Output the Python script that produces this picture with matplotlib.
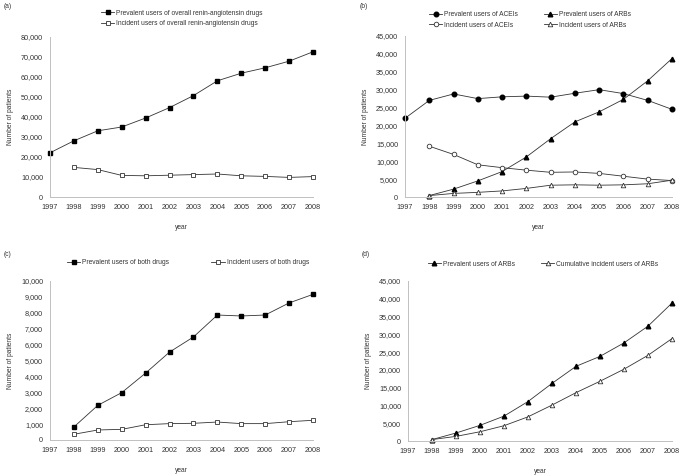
import matplotlib
matplotlib.use("Agg")
import matplotlib.pyplot as plt
from matplotlib.ticker import FuncFormatter, MultipleLocator

plt.rcParams['font.family'] = ['Liberation Sans', 'DejaVu Sans']

years = list(range(1997, 2009))
years_98 = list(range(1998, 2009))

# (a)
a_prev = [22100, 28100, 33100, 35000, 39500, 44700, 50700, 58100, 61900, 64600, 67900, 72600]
a_inc = [14800, 13700, 10800, 10600, 10900, 11200, 11500, 10600, 10300, 9800, 10200]
# (b)
b_prev_acei = [22000, 27000, 28800, 27500, 28000, 28200, 27900, 29000, 30000, 28900, 27000, 24500]
b_prev_arb = [400, 2200, 4500, 7100, 11200, 16300, 21000, 23800, 27300, 32500, 38700]
b_inc_acei = [14200, 11900, 9000, 8200, 7500, 6900, 7000, 6600, 5800, 5000, 4600]
b_inc_arb = [400, 1000, 1300, 1700, 2400, 3300, 3400, 3300, 3400, 3700, 4700]
# (c)
c_prev = [820, 2180, 2980, 4210, 5530, 6480, 7860, 7800, 7860, 8620, 9160]
c_inc = [360, 630, 670, 960, 1030, 1050, 1130, 1030, 1030, 1150, 1240]
# (d)
d_prev_arb = [400, 2250, 4400, 7000, 11100, 16200, 21000, 23800, 27600, 32300, 38800]
d_cum_inc_arb = [400, 1300, 2600, 4300, 6800, 10100, 13600, 16800, 20200, 24100, 28800]

FS = 5.2
LFS = 4.8
W, H = 685, 476
fig = plt.figure(figsize=(W / 100, H / 100), dpi=100)

def mkax(l, r, t, b):
    return fig.add_axes([l / W, 1 - b / H, (r - l) / W, (b - t) / H])

def style(ax, ymax, step):
    ax.set_xlim(1997, 2008)
    ax.set_ylim(0, ymax)
    ax.set_xticks(years)
    ax.yaxis.set_major_locator(MultipleLocator(step))
    ax.yaxis.set_major_formatter(FuncFormatter(lambda v, p: f"{int(v):,}"))
    for s in ['top', 'right']:
        ax.spines[s].set_visible(False)
    for s in ['left', 'bottom']:
        ax.spines[s].set_color('#c0c0c0')
        ax.spines[s].set_linewidth(0.7)
    ax.tick_params(length=0, labelsize=FS, pad=5, colors='#333333')
    ax.set_xlabel('year', fontsize=LFS, labelpad=9.5, color='#333333')
    ax.set_ylabel('Number of patients', fontsize=LFS, labelpad=5, color='#333333')

lw = 0.6
ms = 3.3
kw_fill = dict(color='#333333', lw=lw, markersize=ms, markerfacecolor='black', markeredgecolor='black', clip_on=False)
kw_open = dict(color='#333333', lw=lw, markersize=ms, markerfacecolor='white', markeredgecolor='#333333', markeredgewidth=0.6, clip_on=False)
lkw = dict(frameon=False, fontsize=LFS, handlelength=2.0, handletextpad=0.3, borderpad=0, labelcolor='#333333')

# Panel (a)
ax = mkax(50, 313, 37, 197)
ax.plot(years, a_prev, marker='s', label='Prevalent users of overall renin-angiotensin drugs', **kw_fill)
ax.plot(years_98, a_inc, marker='s', label='Incident users of overall renin-angiotensin drugs', **kw_open)
style(ax, 80000, 10000)
ax.legend(loc='center', bbox_to_anchor=(182 / W, 1 - 18.5 / H), bbox_transform=fig.transFigure,
          ncol=1, labelspacing=0.55, **lkw)

# Panel (b)
ax = mkax(405, 672, 36, 197)
h1, = ax.plot(years, b_prev_acei, marker='o', label='Prevalent users of ACEIs', **kw_fill)
h2, = ax.plot(years_98, b_prev_arb, marker='^', label='Prevalent users of ARBs', **kw_fill)
h3, = ax.plot(years_98, b_inc_acei, marker='o', label='Incident users of ACEIs', **kw_open)
h4, = ax.plot(years_98, b_inc_arb, marker='^', label='Incident users of ARBs', **kw_open)
style(ax, 45000, 5000)
ax.legend(handles=[h1, h3, h2, h4], loc='center', bbox_to_anchor=(530 / W, 1 - 20 / H), bbox_transform=fig.transFigure,
          ncol=2, labelspacing=0.55, columnspacing=3.8, **lkw)

# Panel (c)
ax = mkax(50, 313, 281, 440)
ax.plot(years_98, c_prev, marker='s', label='Prevalent users of both drugs', **kw_fill)
ax.plot(years_98, c_inc, marker='s', label='Incident users of both drugs', **kw_open)
style(ax, 10000, 1000)
ax.legend(loc='center', bbox_to_anchor=(188 / W, 1 - 263 / H), bbox_transform=fig.transFigure,
          ncol=2, columnspacing=6.3, **lkw)

# Panel (d)
ax = mkax(408, 672, 281, 441)
ax.plot(years_98, d_prev_arb, marker='^', label='Prevalent users of ARBs', **kw_fill)
ax.plot(years_98, d_cum_inc_arb, marker='^', label='Cumulative incident users of ARBs', **kw_open)
style(ax, 45000, 5000)
ax.legend(loc='center', bbox_to_anchor=(543 / W, 1 - 264 / H), bbox_transform=fig.transFigure,
          ncol=2, columnspacing=3.9, **lkw)

for txt, x, y in [('(a)', 4, 7), ('(b)', 360, 7), ('(c)', 4, 255), ('(d)', 362, 255)]:
    fig.text(x / W, 1 - y / H, txt, fontsize=LFS, va='center', ha='left', color='#333333')

fig.savefig('out.png', dpi=100, facecolor='white')
